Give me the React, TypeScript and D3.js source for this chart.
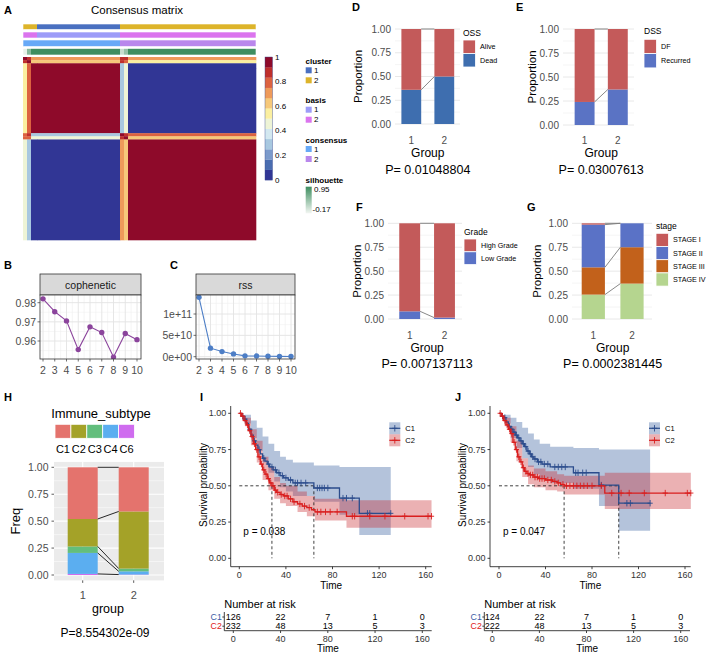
import React from "react";
import * as d3 from "d3";

const FONT = "'Liberation Sans', Arial, Helvetica, sans-serif";
const AXIS_TXT = "#4D4D4D";

// ---------- A: consensus matrix (samples grouped into ordered segments) ----------
const segmentSizes = [4, 4, 6, 83, 4, 4, 128];
const segmentCluster = [2, 2, 2, 1, 2, 2, 2];
const segmentBasis = [2, 2, 2, 1, 2, 2, 2];
const segmentConsensus = [1, 1, 1, 1, 2, 2, 2];
const segmentSilhouette = [-0.1, 0.5, 0.95, 0.95, 0.1, 0.4, 0.95];
// mean consensus between row segment i and column segment j
const blockConsensus = [
  [0.95, 0.9, 0.72, 0.7, 0.9, 0.85, 0.72],
  [0.9, 0.95, 0.62, 0.6, 0.85, 0.8, 0.58],
  [0.55, 0.75, 1, 1, 0.3, 0.45, 0],
  [0.55, 0.75, 1, 1, 0.3, 0.45, 0],
  [0.8, 0.85, 0.3, 0.3, 0.95, 0.9, 0.75],
  [0.75, 0.8, 0.45, 0.45, 0.9, 0.95, 0.62],
  [0.42, 0.3, 0, 0, 0.72, 0.6, 1],
];
const consensusPalette = [
  "#313695", "#4A6DB0", "#7B9ACB", "#A8C8E0", "#D3E8F0", "#EEF4D6",
  "#FBEFA0", "#F6C87A", "#EE9A5A", "#DC6240", "#BF2F2C", "#8E0A2A",
];
const consensusTicks = [0, 0.2, 0.4, 0.6, 0.8, 1];
const clusterColors: Record<number, string> = { 1: "#4A70C0", 2: "#DDB42A" };
const basisColors: Record<number, string> = { 1: "#9D9CF8", 2: "#DB74EE" };
const consColors: Record<number, string> = { 1: "#67A9F7", 2: "#B987EC" };

// ---------- B, C: rank survey ----------
const ranks = [2, 3, 4, 5, 6, 7, 8, 9, 10];
const cophenetic = [0.982, 0.9753, 0.9705, 0.9555, 0.9674, 0.9644, 0.9516, 0.9639, 0.9607];
const rss = [1.39e11, 2.0e10, 1.2e10, 6.5e9, 2e9, 1.5e9, 1e9, 7e8, 4e8];
const copheneticTicks = [0.96, 0.97, 0.98];
const copheneticMinor = [0.955, 0.965, 0.975];
const rssTicks = [0, 5e10, 1e11];
const rssMinor = [2.5e10, 7.5e10, 1.25e11];
const rssTickLabels = ["0e+00", "5e+10", "1e+11"];

// ---------- D–G: proportions by group ----------
const groupNames = ["1", "2"];
const propTicks = [0, 0.25, 0.5, 0.75, 1];
const propMinor = [0.125, 0.375, 0.625, 0.875];
const propTickLabels = ["0.00", "0.25", "0.50", "0.75", "1.00"];

const ossLevels = ["Alive", "Dead"];
const ossValues = [[0.64, 0.5], [0.36, 0.5]];
const dssLevels = ["DF", "Recurred"];
const dssValues = [[0.76, 0.63], [0.24, 0.37]];
const gradeLevels = ["High Grade", "Low Grade"];
const gradeValues = [[0.92, 0.985], [0.08, 0.015]];
const stageLevels = ["STAGE I", "STAGE II", "STAGE III", "STAGE IV"];
const stageValues = [[0.014, 0], [0.446, 0.25], [0.285, 0.38], [0.255, 0.37]];

// ---------- H: immune subtypes ----------
const immuneLevels = ["C1", "C2", "C3", "C4", "C6"];
const immuneValues = [[0.48, 0.41], [0.255, 0.53], [0.06, 0.026], [0.195, 0.03], [0.01, 0.004]];
const immuneColors = ["#E4736D", "#A4A228", "#63BE7C", "#5BAEF0", "#CF6CEF"];

// ---------- I, J: Kaplan–Meier ----------
const riskTimes = [0, 40, 80, 120, 160];
const kmTicks = [0, 40, 80, 120, 160];

const iC1Time = [0, 2, 4, 6, 8, 10, 12, 14, 16, 18, 20, 22, 24, 26, 29, 32, 35, 38, 42, 46, 64, 86, 103];
const iC1Surv = [1, 0.98, 0.96, 0.93, 0.89, 0.85, 0.81, 0.78, 0.75, 0.72, 0.69, 0.67, 0.65, 0.63, 0.61, 0.59, 0.57, 0.555, 0.54, 0.52, 0.485, 0.415, 0.31];
const iC1Censor = [3, 5, 9, 13, 17, 21, 25, 28, 31, 34, 37, 40, 44, 48, 50, 53, 57, 67, 69, 71, 73, 76, 89, 92, 97, 110, 112, 130];
const iC1CiTime = [0, 5, 10, 15, 20, 25, 30, 35, 40, 46, 64, 86, 103];
const iC1Low = [1, 0.93, 0.83, 0.74, 0.66, 0.59, 0.53, 0.49, 0.46, 0.43, 0.39, 0.3, 0.16];
const iC1Up = [1, 0.99, 0.95, 0.9, 0.84, 0.79, 0.74, 0.7, 0.68, 0.66, 0.64, 0.63, 0.63];

const iC2Time = [0, 2, 4, 6, 8, 10, 12, 14, 16, 18, 20, 22, 24, 26, 28, 30, 32, 35, 38, 42, 46, 50, 54, 58, 62, 65, 92];
const iC2Surv = [1, 0.98, 0.95, 0.92, 0.88, 0.84, 0.79, 0.75, 0.7, 0.65, 0.61, 0.58, 0.55, 0.52, 0.5, 0.47, 0.455, 0.44, 0.43, 0.41, 0.39, 0.375, 0.36, 0.35, 0.335, 0.32, 0.29];
const iC2Censor = [1, 3, 5, 7, 9, 11, 13, 15, 17, 19, 21, 23, 25, 27, 29, 31, 33, 36, 39, 41, 44, 47, 52, 56, 60, 67, 70, 74, 78, 84, 97, 99, 112, 125, 142, 162, 165];
const iC2CiTime = [0, 5, 10, 15, 20, 25, 30, 35, 40, 50, 58, 65, 92];
const iC2Low = [1, 0.91, 0.78, 0.66, 0.54, 0.47, 0.41, 0.38, 0.36, 0.32, 0.29, 0.26, 0.21];
const iC2Up = [1, 0.97, 0.89, 0.81, 0.7, 0.63, 0.56, 0.52, 0.5, 0.46, 0.43, 0.41, 0.4];

const iRiskC1 = [126, 22, 7, 1, 0];
const iRiskC2 = [232, 48, 13, 5, 3];

const jC1Time = [0, 2, 4, 6, 8, 10, 12, 14, 16, 18, 20, 22, 24, 26, 28, 30, 33, 37, 44, 64, 86, 103];
const jC1Surv = [1, 0.98, 0.97, 0.94, 0.91, 0.89, 0.87, 0.85, 0.83, 0.81, 0.79, 0.77, 0.74, 0.72, 0.7, 0.685, 0.665, 0.65, 0.63, 0.59, 0.505, 0.38];
const jC1Censor = [3, 5, 9, 11, 13, 15, 17, 19, 21, 23, 25, 27, 29, 31, 34, 36, 39, 42, 48, 51, 54, 57, 66, 68, 72, 75, 88, 110, 113, 130];
const jC1CiTime = [0, 5, 10, 15, 20, 25, 30, 35, 44, 64, 86, 103];
const jC1Low = [1, 0.93, 0.83, 0.76, 0.69, 0.63, 0.58, 0.55, 0.52, 0.48, 0.36, 0.19];
const jC1Up = [1, 0.99, 0.97, 0.94, 0.9, 0.86, 0.82, 0.79, 0.77, 0.76, 0.75, 0.75];

const jC2Time = [0, 2, 4, 6, 8, 10, 12, 14, 16, 18, 20, 22, 24, 26, 30, 34, 40, 46, 50, 53, 56, 91];
const jC2Surv = [1, 0.98, 0.95, 0.92, 0.89, 0.86, 0.8, 0.75, 0.7, 0.665, 0.625, 0.6, 0.585, 0.575, 0.56, 0.55, 0.54, 0.53, 0.52, 0.51, 0.5, 0.45];
const jC2Censor = [1, 3, 5, 7, 9, 11, 13, 15, 17, 19, 21, 23, 25, 27, 29, 31, 33, 35, 37, 39, 42, 45, 48, 51, 55, 58, 61, 64, 67, 70, 73, 76, 80, 88, 97, 105, 112, 125, 143, 162, 165];
const jC2CiTime = [0, 5, 10, 15, 20, 25, 30, 40, 50, 56, 91];
const jC2Low = [1, 0.91, 0.8, 0.67, 0.56, 0.51, 0.49, 0.47, 0.46, 0.44, 0.34];
const jC2Up = [1, 0.97, 0.91, 0.81, 0.69, 0.64, 0.62, 0.6, 0.58, 0.57, 0.59];

const jRiskC1 = [124, 22, 7, 1, 0];
const jRiskC2 = [222, 48, 13, 5, 3];

const KM_BLUE = "#2B4C8C";
const KM_RED = "#D91E1E";

type KMCurve = {
  name: string; time: number[]; surv: number[]; end: number; censor: number[];
  ciTime: number[]; ciLow: number[]; ciUp: number[]; line: string; fill: string; label: string;
};

const iCurves: KMCurve[] = [
  { name: "C1", time: iC1Time, surv: iC1Surv, end: 130, censor: iC1Censor, ciTime: iC1CiTime, ciLow: iC1Low, ciUp: iC1Up, line: KM_BLUE, fill: "#2E5A9C", label: "#3B5BA5" },
  { name: "C2", time: iC2Time, surv: iC2Surv, end: 165, censor: iC2Censor, ciTime: iC2CiTime, ciLow: iC2Low, ciUp: iC2Up, line: KM_RED, fill: "#C8282C", label: "#E02020" },
];
const jCurves: KMCurve[] = [
  { name: "C1", time: jC1Time, surv: jC1Surv, end: 130, censor: jC1Censor, ciTime: jC1CiTime, ciLow: jC1Low, ciUp: jC1Up, line: KM_BLUE, fill: "#2E5A9C", label: "#3B5BA5" },
  { name: "C2", time: jC2Time, surv: jC2Surv, end: 165, censor: jC2Censor, ciTime: jC2CiTime, ciLow: jC2Low, ciUp: jC2Up, line: KM_RED, fill: "#C8282C", label: "#E02020" },
];

const Letter = ({ x, y, t }: { x: number; y: number; t: string }) => (
  <text x={x} y={y} fontSize={11} fontWeight="bold" dominantBaseline="central">{t}</text>
);

function PanelA() {
  const total = d3.sum(segmentSizes);
  const starts = segmentSizes.map((_, i) => d3.sum(segmentSizes.slice(0, i)));
  const x = d3.scaleLinear().domain([0, total]).range([23, 256]);
  const y = d3.scaleLinear().domain([0, total]).range([57, 240]);
  const heat = d3.scaleQuantize<string>().domain([0, 1]).range(consensusPalette);
  const sil = d3.scaleLinear<string>().domain([-0.17, 0.95]).range(["#F2F6F2", "#3E8E60"]);
  const annRows = [
    { y0: 24, y1: 29.5, color: (i: number) => clusterColors[segmentCluster[i]] },
    { y0: 32, y1: 38, color: (i: number) => basisColors[segmentBasis[i]] },
    { y0: 40, y1: 46.5, color: (i: number) => consColors[segmentConsensus[i]] },
    { y0: 48.5, y1: 55, color: (i: number) => sil(segmentSilhouette[i]) },
  ];
  const cb = d3.scaleLinear().domain([0, 1]).range([180, 57]);
  const n = consensusPalette.length;
  const legendGroups = [
    { title: "cluster", ty: 61, items: [[1, clusterColors[1], 70.3], [2, clusterColors[2], 80.3]] },
    { title: "basis", ty: 100.7, items: [[1, basisColors[1], 109.7], [2, basisColors[2], 119.7]] },
    { title: "consensus", ty: 140, items: [[1, consColors[1], 149], [2, consColors[2], 159]] },
  ];
  return (
    <g>
      <Letter x={4} y={10} t="A" />
      <text x={137} y={10} fontSize={11.5} textAnchor="middle" dominantBaseline="central">Consensus matrix</text>
      {annRows.map((r, ri) =>
        segmentSizes.map((s, i) => (
          <rect key={`${ri}-${i}`} x={x(starts[i])} y={r.y0} width={x(s) - x(0)} height={r.y1 - r.y0} fill={r.color(i)} />
        ))
      )}
      {annRows.map((r, ri) => (
        <rect key={`b${ri}`} x={x(0)} y={r.y0} width={x(total) - x(0)} height={r.y1 - r.y0} fill="none" stroke="#fff" strokeWidth={0.6} />
      ))}
      {blockConsensus.map((row, ri) =>
        row.map((v, ci) => (
          <rect key={`h${ri}-${ci}`} x={x(starts[ci])} y={y(starts[ri])} width={x(segmentSizes[ci]) - x(0) + 0.3}
            height={y(segmentSizes[ri]) - y(0) + 0.3} fill={heat(v)} />
        ))
      )}
      {/* colour key */}
      {consensusPalette.map((c, i) => (
        <rect key={`cb${i}`} x={265} y={cb((i + 1) / n)} width={7.5} height={cb(i / n) - cb((i + 1) / n) + 0.2} fill={c} />
      ))}
      <rect x={265} y={57} width={7.5} height={123} fill="none" stroke="#3A4A8F" strokeWidth={0.4} />
      {consensusTicks.map((t) => (
        <text key={`ct${t}`} x={275} y={cb(t)} fontSize={8} dominantBaseline="central">{String(t)}</text>
      ))}
      {legendGroups.map((g) => (
        <g key={g.title}>
          <text x={305.5} y={g.ty} fontSize={8} fontWeight="bold" dominantBaseline="central">{g.title}</text>
          {g.items.map(([lab, col, cy]) => (
            <g key={String(lab)}>
              <rect x={305.7} y={(cy as number) - 3} width={6} height={6} fill={col as string} />
              <text x={314} y={cy as number} fontSize={8} dominantBaseline="central">{String(lab)}</text>
            </g>
          ))}
        </g>
      ))}
      <defs>
        <linearGradient id="silGrad" x1="0" y1="0" x2="0" y2="1">
          <stop offset="0" stopColor="#3E8E60" />
          <stop offset="1" stopColor="#F2F6F2" />
        </linearGradient>
      </defs>
      <text x={305.5} y={180} fontSize={8} fontWeight="bold" dominantBaseline="central">silhouette</text>
      <rect x={305.7} y={186.7} width={6} height={26.6} fill="url(#silGrad)" />
      <text x={314} y={189.5} fontSize={8} dominantBaseline="central">0.95</text>
      <text x={312.5} y={209.5} fontSize={8} dominantBaseline="central">-0.17</text>
    </g>
  );
}

function RankPanel(p: {
  letter: string; lx: number; title: string; values: number[]; color: string;
  px0: number; px1: number; x2: number; x10: number; y: d3.ScaleLinear<number, number>;
  majors: number[]; minors: number[]; tickLabels: string[]; id: string;
}) {
  const top = 295, bottom = 359, stripTop = 274;
  const x = d3.scaleLinear().domain([2, 10]).range([p.x2, p.x10]);
  const xMinor = ranks.slice(0, -1).map((r) => r + 0.5);
  const line = d3.line<number>().x((_, i) => x(ranks[i])).y((v) => p.y(v));
  return (
    <g>
      <Letter x={p.lx} y={265} t={p.letter} />
      <defs>
        <clipPath id={p.id}><rect x={p.px0} y={top} width={p.px1 - p.px0} height={bottom - top} /></clipPath>
      </defs>
      <rect x={p.px0} y={stripTop} width={p.px1 - p.px0} height={top - stripTop} fill="#D9D9D9" stroke="#333" strokeWidth={0.8} />
      <text x={(p.px0 + p.px1) / 2} y={(stripTop + top) / 2} fontSize={10.5} textAnchor="middle" dominantBaseline="central" fill="#1A1A1A">{p.title}</text>
      <g clipPath={`url(#${p.id})`}>
        <rect x={p.px0} y={top} width={p.px1 - p.px0} height={bottom - top} fill="#fff" />
        {p.minors.map((v) => <line key={`ym${v}`} x1={p.px0} x2={p.px1} y1={p.y(v)} y2={p.y(v)} stroke="#F0F0F0" strokeWidth={0.6} />)}
        {xMinor.map((v) => <line key={`xm${v}`} y1={top} y2={bottom} x1={x(v)} x2={x(v)} stroke="#F0F0F0" strokeWidth={0.6} />)}
        {p.majors.map((v) => <line key={`yM${v}`} x1={p.px0} x2={p.px1} y1={p.y(v)} y2={p.y(v)} stroke="#E3E3E3" strokeWidth={0.9} />)}
        {ranks.map((v) => <line key={`xM${v}`} y1={top} y2={bottom} x1={x(v)} x2={x(v)} stroke="#E3E3E3" strokeWidth={0.9} />)}
        <path d={line(p.values) || ""} fill="none" stroke={p.color} strokeWidth={1.1} />
        {p.values.map((v, i) => <circle key={i} cx={x(ranks[i])} cy={p.y(v)} r={2.7} fill={p.color} />)}
      </g>
      <rect x={p.px0} y={top} width={p.px1 - p.px0} height={bottom - top} fill="none" stroke="#333" strokeWidth={0.8} />
      {p.majors.map((v, i) => (
        <g key={`t${v}`}>
          <line x1={p.px0 - 2.5} x2={p.px0} y1={p.y(v)} y2={p.y(v)} stroke="#333" strokeWidth={0.7} />
          <text x={p.px0 - 4} y={p.y(v)} fontSize={10.5} textAnchor="end" dominantBaseline="central" fill={AXIS_TXT}>{p.tickLabels[i]}</text>
        </g>
      ))}
      {ranks.map((r) => (
        <g key={`x${r}`}>
          <line x1={x(r)} x2={x(r)} y1={bottom} y2={bottom + 2.5} stroke="#333" strokeWidth={0.7} />
          <text x={x(r)} y={370} fontSize={10.5} textAnchor="middle" dominantBaseline="central" fill={AXIS_TXT}>{r}</text>
        </g>
      ))}
    </g>
  );
}

function ProportionPanel(p: {
  letter: string; lx: number; ly: number; top: number; bottom: number; c1: number; c2: number;
  tickX: number; titleX: number; gridR: number; groupY: number; groupTitleY: number; pY: number; pText: string;
  legend: string; levels: string[]; values: number[][]; colors: string[];
  legX: number; legTitleY: number; legY0: number; legStep: number;
}) {
  const y = d3.scaleLinear().domain([0, 1]).range([p.bottom, p.top]);
  const x = d3.scalePoint<string>().domain(groupNames).range([p.c1, p.c2]);
  const bw = (p.c2 - p.c1) * 0.6;
  const rows = groupNames.map((_, gi) => Object.fromEntries(p.levels.map((l, li) => [l, p.values[li][gi]])));
  const series = d3.stack<Record<string, number>>().keys([...p.levels].reverse())(rows as any);
  const color = d3.scaleOrdinal<string, string>().domain(p.levels).range(p.colors);
  const gridL = p.tickX + 4;
  const center = (p.c1 + p.c2) / 2;
  return (
    <g>
      <Letter x={p.lx} y={p.ly} t={p.letter} />
      {propMinor.map((v) => <line key={`m${v}`} x1={gridL} x2={p.gridR} y1={y(v)} y2={y(v)} stroke="#EFEFEF" strokeWidth={0.6} />)}
      {propTicks.map((v) => <line key={`M${v}`} x1={gridL} x2={p.gridR} y1={y(v)} y2={y(v)} stroke="#E8E8E8" strokeWidth={1} />)}
      {series.map((s) =>
        s.map((d, gi) => (
          <rect key={`${s.key}-${gi}`} x={(x(groupNames[gi]) as number) - bw / 2} y={y(d[1])} width={bw}
            height={Math.max(0, y(d[0]) - y(d[1]))} fill={color(s.key)} />
        ))
      )}
      {series.map((s) => (
        <line key={`c${s.key}`} x1={(x("1") as number) + bw / 2} y1={y(s[0][1])} x2={(x("2") as number) - bw / 2} y2={y(s[1][1])}
          stroke="#7A7A7A" strokeWidth={0.9} />
      ))}
      {propTicks.map((v, i) => (
        <text key={`t${v}`} x={p.tickX} y={y(v)} fontSize={10} textAnchor="end" dominantBaseline="central" fill={AXIS_TXT}>{propTickLabels[i]}</text>
      ))}
      {groupNames.map((g) => (
        <text key={g} x={x(g) as number} y={p.groupY} fontSize={10} textAnchor="middle" dominantBaseline="central" fill={AXIS_TXT}>{g}</text>
      ))}
      <text transform={`translate(${p.titleX},${(p.top + p.bottom) / 2}) rotate(-90)`} fontSize={11.5} textAnchor="middle" dominantBaseline="central">Proportion</text>
      <text x={center} y={p.groupTitleY} fontSize={12} textAnchor="middle" dominantBaseline="central">Group</text>
      <text x={center} y={p.pY} fontSize={12.5} textAnchor="middle" dominantBaseline="central">{p.pText}</text>
      <text x={p.legX} y={p.legTitleY} fontSize={8.5} dominantBaseline="central">{p.legend}</text>
      {p.levels.map((l, i) => (
        <g key={l}>
          <rect x={p.legX} y={p.legY0 + i * p.legStep} width={12.5} height={p.legStep} fill={color(l)} stroke="#fff" strokeWidth={0.8} />
          <text x={p.legX + 17} y={p.legY0 + (i + 0.5) * p.legStep} fontSize={7.2} dominantBaseline="central">{l}</text>
        </g>
      ))}
    </g>
  );
}

function PanelH() {
  const y = d3.scaleLinear().domain([0, 1]).range([575, 467.3]);
  const x = d3.scalePoint<string>().domain(groupNames).range([82.7, 133.7]);
  const bw = 30;
  const panel = { x0: 54, x1: 164, y0: y(1.05), y1: y(-0.05) };
  const rows = groupNames.map((_, gi) => Object.fromEntries(immuneLevels.map((l, li) => [l, immuneValues[li][gi]])));
  const series = d3.stack<Record<string, number>>().keys([...immuneLevels].reverse())(rows as any);
  const color = d3.scaleOrdinal<string, string>().domain(immuneLevels).range(immuneColors);
  const sw = d3.scaleBand<string>().domain(immuneLevels).range([55, 134.5]);
  return (
    <g>
      <Letter x={4} y={397} t="H" />
      <text x={101} y={413} fontSize={13} textAnchor="middle" dominantBaseline="central">Immune_subtype</text>
      {immuneLevels.map((l) => (
        <g key={l}>
          <rect x={sw(l)} y={424.3} width={sw.bandwidth()} height={14} fill={color(l)} stroke="#fff" strokeWidth={0.8} />
          <text x={(sw(l) as number) + sw.bandwidth() / 2} y={449} fontSize={11} textAnchor="middle" dominantBaseline="central">{l}</text>
        </g>
      ))}
      <rect x={panel.x0} y={panel.y0} width={panel.x1 - panel.x0} height={panel.y1 - panel.y0} fill="#EBEBEB" />
      {propMinor.map((v) => <line key={`m${v}`} x1={panel.x0} x2={panel.x1} y1={y(v)} y2={y(v)} stroke="#fff" strokeWidth={0.5} />)}
      {propTicks.map((v) => <line key={`M${v}`} x1={panel.x0} x2={panel.x1} y1={y(v)} y2={y(v)} stroke="#fff" strokeWidth={1.1} />)}
      {groupNames.map((g) => <line key={`v${g}`} x1={x(g) as number} x2={x(g) as number} y1={panel.y0} y2={panel.y1} stroke="#fff" strokeWidth={1.1} />)}
      {series.map((s) =>
        s.map((d, gi) => (
          <rect key={`${s.key}-${gi}`} x={(x(groupNames[gi]) as number) - bw / 2} y={y(d[1])} width={bw}
            height={Math.max(0, y(d[0]) - y(d[1]))} fill={color(s.key)} />
        ))
      )}
      {series.map((s) => (
        <line key={`c${s.key}`} x1={(x("1") as number) + bw / 2} y1={y(s[0][1])} x2={(x("2") as number) - bw / 2} y2={y(s[1][1])}
          stroke="#111" strokeWidth={0.9} />
      ))}
      {propTicks.map((v, i) => (
        <g key={`t${v}`}>
          <line x1={panel.x0 - 2.5} x2={panel.x0} y1={y(v)} y2={y(v)} stroke="#333" strokeWidth={0.8} />
          <text x={48.5} y={y(v)} fontSize={10.5} textAnchor="end" dominantBaseline="central" fill={AXIS_TXT}>{propTickLabels[i]}</text>
        </g>
      ))}
      {groupNames.map((g) => (
        <g key={g}>
          <line x1={x(g) as number} x2={x(g) as number} y1={panel.y1} y2={panel.y1 + 2.5} stroke="#333" strokeWidth={0.8} />
          <text x={x(g) as number} y={595} fontSize={11} textAnchor="middle" dominantBaseline="central" fill={AXIS_TXT}>{g}</text>
        </g>
      ))}
      <text transform={`translate(15,${(panel.y0 + panel.y1) / 2}) rotate(-90)`} fontSize={13} textAnchor="middle" dominantBaseline="central">Freq</text>
      <text x={108} y={609} fontSize={12.5} textAnchor="middle" dominantBaseline="central">group</text>
      <text x={105} y={633} fontSize={12} textAnchor="middle" dominantBaseline="central">P=8.554302e-09</text>
    </g>
  );
}

function KMPanel(p: {
  letter: string; lx: number; axisX: number; axisRight: number; t0: number; t160: number;
  tab0: number; tab160: number; tabLeft: number; tabRight: number;
  curves: KMCurve[]; pText: string; pX: number; legendX: number; risk: number[][];
}) {
  const x = d3.scaleLinear().domain([0, 160]).range([p.t0, p.t160]);
  const y = d3.scaleLinear().domain([0, 1]).range([558.3, 413.3]);
  const tx = d3.scaleLinear().domain([0, 160]).range([p.tab0, p.tab160]);
  const axisY = 566.7;
  const survAt = (c: KMCurve, t: number) => {
    let s = 1;
    c.time.forEach((tt, i) => { if (tt <= t) s = c.surv[i]; });
    return s;
  };
  const line = d3.line<[number, number]>().x((d) => x(d[0])).y((d) => y(d[1])).curve(d3.curveStepAfter);
  const band = d3.area<[number, number, number]>().x((d) => x(d[0])).y0((d) => y(d[1])).y1((d) => y(d[2])).curve(d3.curveStepAfter);
  const medians = p.curves.map((c) => {
    const i = c.surv.findIndex((s) => s <= 0.5);
    return i >= 0 ? c.time[i] : null;
  }).filter((m): m is number => m !== null);
  const yTicks = [0, 0.25, 0.5, 0.75, 1];
  const yLabels = ["0.00", "0.25", "0.50", "0.75", "1.00"];
  const cross = (cx: number, cy: number, h = 2.6, v = 3.2) => `M${cx - h},${cy}H${cx + h}M${cx},${cy - v}V${cy + v}`;
  return (
    <g>
      <Letter x={p.lx} y={397} t={p.letter} />
      {p.curves.map((c) => {
        const pts: [number, number, number][] = c.ciTime.map((t, i) => [t, c.ciLow[i], c.ciUp[i]]);
        const last = pts[pts.length - 1];
        pts.push([c.end, last[1], last[2]]);
        return <path key={`ci${c.name}`} d={band(pts) || ""} fill={c.fill} fillOpacity={0.36} />;
      })}
      {medians.length > 0 && (
        <g stroke="#111" strokeWidth={0.8} strokeDasharray="3,2.5">
          <line x1={x(0)} x2={x(d3.max(medians) as number)} y1={y(0.5)} y2={y(0.5)} />
          {medians.map((m) => <line key={`md${m}`} x1={x(m)} x2={x(m)} y1={y(0.5)} y2={y(0)} />)}
        </g>
      )}
      {p.curves.map((c) => {
        const pts: [number, number][] = c.time.map((t, i) => [t, c.surv[i]]);
        pts.push([c.end, c.surv[c.surv.length - 1]]);
        return (
          <g key={`l${c.name}`}>
            <path d={line(pts) || ""} fill="none" stroke={c.line} strokeWidth={1.3} />
            <path d={c.censor.map((t) => cross(x(t), y(survAt(c, t)))).join("")} stroke={c.line} strokeWidth={0.9} fill="none" />
          </g>
        );
      })}
      {/* axes */}
      <line x1={p.axisX} x2={p.axisX} y1={406} y2={axisY} stroke="#111" strokeWidth={0.8} />
      <line x1={p.axisX} x2={p.axisRight} y1={axisY} y2={axisY} stroke="#111" strokeWidth={0.8} />
      {yTicks.map((v, i) => (
        <g key={`y${v}`}>
          <line x1={p.axisX - 2.5} x2={p.axisX} y1={y(v)} y2={y(v)} stroke="#111" strokeWidth={0.8} />
          <text x={p.axisX - 4.5} y={y(v)} fontSize={9} textAnchor="end" dominantBaseline="central" fill="#333">{yLabels[i]}</text>
        </g>
      ))}
      {kmTicks.map((t) => (
        <g key={`x${t}`}>
          <line x1={x(t)} x2={x(t)} y1={axisY} y2={axisY + 2.5} stroke="#111" strokeWidth={0.8} />
          <text x={x(t)} y={575} fontSize={9} textAnchor="middle" dominantBaseline="central" fill="#333">{t}</text>
        </g>
      ))}
      <text x={(p.axisX + p.axisRight) / 2} y={585.5} fontSize={10} textAnchor="middle" dominantBaseline="central">Time</text>
      <text transform={`translate(${p.axisX - 27.5},485) rotate(-90)`} fontSize={10} textAnchor="middle" dominantBaseline="central">Survival probability</text>
      <text x={p.pX} y={531} fontSize={10} dominantBaseline="central">{p.pText}</text>
      {/* legend */}
      {p.curves.map((c, i) => {
        const cy = 428.3 + i * 12;
        return (
          <g key={`lg${c.name}`}>
            <rect x={p.legendX} y={cy - 6} width={11} height={12} fill={c.fill} fillOpacity={0.36} />
            <line x1={p.legendX} x2={p.legendX + 11} y1={cy} y2={cy} stroke={c.line} strokeWidth={1.2} />
            <path d={cross(p.legendX + 5.5, cy)} stroke={c.line} strokeWidth={0.9} />
            <text x={p.legendX + 16} y={cy} fontSize={7.5} dominantBaseline="central">{c.name}</text>
          </g>
        );
      })}
      {/* number at risk */}
      <text x={p.tabLeft} y={604.3} fontSize={11} dominantBaseline="central">Number at risk</text>
      <line x1={p.tabLeft} x2={p.tabLeft} y1={612} y2={630.7} stroke="#111" strokeWidth={0.8} />
      <line x1={p.tabLeft} x2={p.tabRight} y1={630.7} y2={630.7} stroke="#111" strokeWidth={0.8} />
      {p.curves.map((c, i) => {
        const cy = 617 + i * 9.2;
        return (
          <g key={`r${c.name}`}>
            <line x1={p.tabLeft - 2} x2={p.tabLeft} y1={cy} y2={cy} stroke="#111" strokeWidth={0.8} />
            <text x={p.tabLeft - 2.5} y={cy} fontSize={8.8} textAnchor="end" dominantBaseline="central" fill={c.label}>{c.name}</text>
            {riskTimes.map((t, k) => (
              <text key={t} x={tx(t)} y={cy} fontSize={9} textAnchor="middle" dominantBaseline="central">{p.risk[i][k]}</text>
            ))}
          </g>
        );
      })}
      {riskTimes.map((t) => (
        <g key={`rt${t}`}>
          <line x1={tx(t)} x2={tx(t)} y1={630.7} y2={633} stroke="#111" strokeWidth={0.8} />
          <text x={tx(t)} y={638.5} fontSize={9} textAnchor="middle" dominantBaseline="central" fill="#333">{t}</text>
        </g>
      ))}
      <text x={(p.tabLeft + p.tabRight) / 2} y={648.5} fontSize={10} textAnchor="middle" dominantBaseline="central">Time</text>
    </g>
  );
}

export default function App() {
  const yCoph = d3.scaleLinear().domain([0.96, 0.98]).range([341, 302.7]);
  const yRss = d3.scaleLinear().domain([0, 1e11]).range([356.7, 314]);
  return (
    <svg width={708} height={654} style={{ position: "absolute", left: 0, top: 0, background: "#fff" }} fontFamily={FONT}>
      <rect width={708} height={654} fill="#fff" />
      <PanelA />
      <RankPanel letter="B" lx={4} title="cophenetic" values={cophenetic} color="#8B449C" px0={40} px1={141} x2={43} x10={137}
        y={yCoph} majors={copheneticTicks} minors={copheneticMinor} tickLabels={["0.96", "0.97", "0.98"]} id="clipB" />
      <RankPanel letter="C" lx={170} title="rss" values={rss} color="#4D7EC6" px0={196} px1={295} x2={199} x10={291}
        y={yRss} majors={rssTicks} minors={rssMinor} tickLabels={rssTickLabels} id="clipC" />
      <ProportionPanel letter="D" lx={352} ly={7} top={29} bottom={124} c1={411.3} c2={444.3} tickX={391} titleX={358} gridR={460}
        groupY={140} groupTitleY={153} pY={170} pText="P= 0.01048804" legend="OSS" levels={ossLevels} values={ossValues}
        colors={["#C35A5A", "#3E6EAF"]} legX={463} legTitleY={33} legY0={40} legStep={13.5} />
      <ProportionPanel letter="E" lx={516} ly={7} top={29} bottom={125} c1={584.6} c2={617.8} tickX={559} titleX={532} gridR={634}
        groupY={140} groupTitleY={153} pY={170} pText="P= 0.03007613" legend="DSS" levels={dssLevels} values={dssValues}
        colors={["#C45A5A", "#5A73C4"]} legX={644} legTitleY={31} legY0={39.3} legStep={14.3} />
      <ProportionPanel letter="F" lx={356} ly={207} top={223.3} bottom={319} c1={409.7} c2={444.5} tickX={384} titleX={357} gridR={462}
        groupY={335} groupTitleY={348} pY={364} pText="P= 0.007137113" legend="Grade" levels={gradeLevels} values={gradeValues}
        colors={["#C35A5A", "#5A72C6"]} legX={464} legTitleY={231.7} legY0={239} legStep={12.8} />
      <ProportionPanel letter="G" lx={527} ly={207} top={223.3} bottom={319} c1={593.3} c2={632} tickX={568} titleX={537} gridR={652}
        groupY={335} groupTitleY={348} pY={364} pText="P= 0.0002381445" legend="stage" levels={stageLevels} values={stageValues}
        colors={["#C55A5A", "#5A72C6", "#C2611B", "#B5D58F"]} legX={656} legTitleY={225.7} legY0={233.3} legStep={13.2} />
      <PanelH />
      <KMPanel letter="I" lx={200} axisX={230.7} axisRight={431.7} t0={239.3} t160={425.7}
        tab0={233.3} tab160={422.3} tabLeft={224.3} tabRight={431.7} curves={iCurves} pText="p = 0.038" pX={243.3}
        legendX={389.3} risk={[iRiskC1, iRiskC2]} />
      <KMPanel letter="J" lx={455} axisX={490} axisRight={690.7} t0={499} t160={685}
        tab0={492.3} tab160={680.7} tabLeft={484.3} tabRight={690} curves={jCurves} pText="p = 0.047" pX={503}
        legendX={649} risk={[jRiskC1, jRiskC2]} />
    </svg>
  );
}
